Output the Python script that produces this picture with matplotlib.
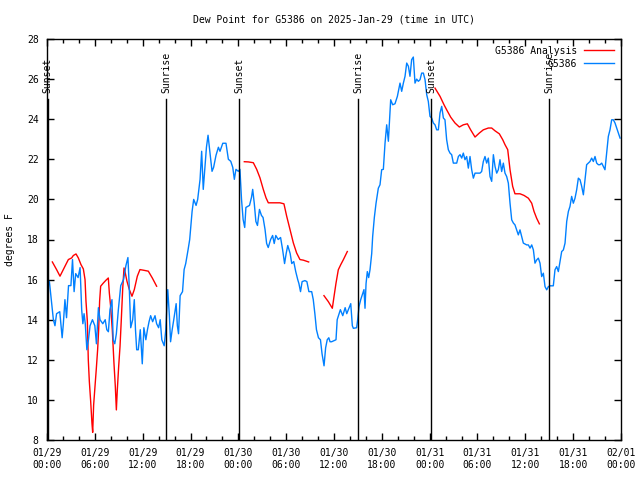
import numpy as np
import matplotlib
matplotlib.use('Agg')
import matplotlib.pyplot as plt
from matplotlib.ticker import MultipleLocator

# hours since 2025-01-29 00:00 UTC
hrs = [0, 0.3, 0.8, 1.0, 1.2, 1.6, 1.9, 2.05, 2.25, 2.45, 2.7, 3.0, 3.2, 3.4, 3.6, 3.9, 4.15, 4.35, 4.5, 4.65,
       4.8, 5.0, 5.2, 5.4, 5.7, 6.0, 6.2, 6.45, 6.65, 7.0, 7.3, 7.5, 7.7, 7.9, 8.15, 8.3, 8.5, 8.7, 8.95, 9.25,
       9.6, 9.9, 10.15, 10.3, 10.5, 10.75, 10.95, 11.1, 11.25, 11.45, 11.7, 11.95, 12.15, 12.4, 12.6, 12.8, 13.0,
       13.25, 13.55, 13.75, 14.0, 14.2, 14.4, 14.7, 14.9, 15.0, 15.15, 15.35, 15.5, 15.7, 15.9, 16.2, 16.35, 16.5,
       16.7, 17.0, 17.2, 17.4, 17.7, 17.9, 18.2, 18.4, 18.7, 18.9, 19.2, 19.4, 19.6, 19.85, 20.0, 20.2, 20.45,
       20.7, 20.9, 21.2, 21.5, 21.7, 22.05, 22.45, 22.75, 23.05, 23.3, 23.5, 23.7, 24.0, 24.2, 24.4, 24.6, 24.8,
       24.95, 25.4, 25.65, 25.8, 26.0, 26.2, 26.4, 26.65, 26.9, 27.1, 27.35, 27.55, 27.75, 28.05, 28.3, 28.5,
       28.7, 29.0, 29.3, 29.55, 29.8, 30.0, 30.2, 30.5, 30.7, 30.95, 31.2, 31.45, 31.6, 31.8, 32.0, 32.35, 32.6,
       32.85, 33.2, 33.4, 33.6, 33.8, 34.05, 34.3, 34.5, 34.75, 34.95, 35.15, 35.35, 35.5, 35.7, 36.25, 36.4,
       36.8, 37.1, 37.4, 37.6, 38.1, 38.3, 38.43, 38.84, 38.97, 39.14, 39.35, 39.6, 39.76, 39.89, 40.02, 40.18,
       40.35, 40.52, 40.73, 40.85, 41.06, 41.27, 41.56, 41.77, 41.98, 42.19, 42.40, 42.61, 42.82, 43.11, 43.36,
       43.65, 43.95, 44.28, 44.49, 44.70, 44.91, 45.12, 45.33, 45.53, 45.74, 45.95, 46.16, 46.37, 46.58, 46.79,
       47.00, 47.21, 47.42, 47.63, 47.83, 48.04, 48.25, 48.46, 48.67, 48.88, 49.09, 49.30, 49.51, 49.72, 49.92,
       50.13, 50.34, 50.55, 50.76, 50.97, 51.39, 51.60, 51.81, 52.02, 52.22, 52.43, 52.64, 52.85, 53.06, 53.27,
       53.48, 53.69, 53.90, 54.31, 54.52, 54.73, 54.94, 55.15, 55.36, 55.57, 55.78, 55.99, 56.20, 56.41, 56.61,
       56.82, 57.03, 57.24, 57.45, 57.66, 57.87, 58.08, 58.29, 58.50, 58.70, 58.91, 59.12, 59.33, 59.54, 59.75,
       60.17, 60.38, 60.59, 60.80, 61.01, 61.21, 61.42, 61.63, 61.84, 62.05, 62.26, 62.47, 62.68, 62.89, 63.10,
       63.51, 63.72, 63.93, 64.14, 64.35, 64.56, 64.77, 64.98, 65.19, 65.40, 65.60, 65.81, 66.02, 66.23, 66.44,
       66.65, 66.86, 67.07, 67.28, 67.49, 67.69, 67.90, 68.11, 68.32, 68.53, 68.74, 68.95, 69.16, 69.37, 69.58,
       69.79, 69.99, 70.20, 70.41, 70.62, 70.83, 71.04, 71.25, 71.46, 71.67, 71.88]
dew = [16.0, 15.9, 14.0, 13.7, 14.3, 14.4, 13.1, 13.8, 15.0, 14.1, 15.7, 15.7, 17.0, 15.4, 16.3, 16.1, 16.6, 14.5, 13.8, 14.3,
       13.8, 12.5, 13.0, 13.7, 14.0, 13.7, 12.8, 14.6, 14.0, 13.8, 14.0, 13.5, 13.4, 14.5, 15.0, 13.0, 12.8, 13.3, 14.5, 15.7,
       16.0, 16.7, 17.1, 15.8, 13.6, 14.0, 15.0, 13.5, 12.5, 12.5, 13.5, 11.8, 13.6, 13.0, 13.5, 13.9, 14.2,
       13.9, 14.2, 13.8, 13.6, 14.0, 13.0, 12.7, 13.5, 14.3, 15.5, 14.2, 12.9, 13.5, 14.0, 14.8, 13.7, 13.3,
       15.2, 15.4, 16.5, 16.8, 17.5, 18.0, 19.4, 20.0, 19.7, 20.0, 21.0, 22.4, 20.5, 21.8, 22.6, 23.2, 22.3,
       21.4, 21.6, 22.2, 22.6, 22.4, 22.8, 22.8, 22.0, 21.9, 21.6, 21.0, 21.5, 21.4, 21.5, 20.0, 19.0, 18.6,
       19.6, 19.7, 20.1, 20.5, 19.8, 18.9, 18.7, 19.5, 19.2, 19.1, 18.5, 17.8, 17.6, 18.0, 18.2, 17.8,
       18.2, 18.0, 18.1, 17.5, 16.8, 17.3, 17.7, 17.3, 16.8, 16.9, 16.4, 16.0, 15.8, 15.4, 15.9, 15.95, 15.9,
       15.4, 15.4, 15.0, 14.3, 13.5, 13.1, 13.0, 12.3, 11.7, 12.6, 13.0, 13.1, 12.9, 12.9, 13.0, 14.0,
       14.5, 14.2, 14.6, 14.3, 14.8, 13.7, 13.57, 13.6, 14.0, 14.66, 15.0, 15.3, 15.5, 14.57, 15.8, 16.4,
       16.1, 16.5, 17.3, 18.15, 19.1, 19.8, 20.56, 20.73, 21.48, 21.5, 22.8, 23.72, 22.9, 24.97, 24.72,
       24.77, 25.14, 25.8, 25.39, 25.8, 26.14, 26.8, 26.64, 26.14, 26.97, 27.1, 25.8, 26.0, 25.89, 25.97,
       26.3, 26.3, 25.97, 25.22, 24.89, 24.14, 24.06, 23.81, 23.72, 23.47, 23.47, 24.31, 24.64, 24.06, 23.97,
       22.98, 22.48, 22.31, 22.23, 21.81, 21.81, 22.14, 22.23, 22.06, 22.31, 21.98, 22.14, 21.56, 22.14, 21.48,
       21.06, 21.31, 21.31, 21.31, 21.39, 21.89, 22.14, 21.81, 22.06, 21.14, 20.9, 22.23, 21.64, 21.31, 21.48,
       21.98, 21.39, 21.81, 21.31, 21.14, 20.81, 19.81, 18.98, 18.82, 18.73, 18.48, 18.23, 18.48, 18.15, 17.82,
       17.73, 17.73, 17.57, 17.73, 17.48, 16.82, 16.98, 17.07, 16.82, 16.15, 16.32, 15.65, 15.49, 15.65, 15.69,
       15.69, 16.49, 16.65, 16.40, 16.9, 17.4, 17.48, 17.82, 18.9, 19.4, 19.65, 20.15, 19.81, 20.06, 20.48,
       21.06, 20.98, 20.65, 20.23, 20.98, 21.73, 21.81, 21.89, 22.06, 21.89, 22.14, 21.81, 21.73, 21.73, 21.81,
       21.64, 21.48, 22.31, 23.14, 23.47, 23.97, 23.97, 23.81, 23.56, 23.31, 23.06]

nan = np.nan
ana_hrs = [0.67, 1.2, 1.63, 2.26, 2.68, 3.09, 3.3, 3.64, 3.93, 4.26, 4.56, 4.77, 4.89, 5.06, 5.18, 5.31, 5.48,
           5.64, 5.73, 5.85, 6.02, 6.19, 6.35, 6.48, 6.6, 6.73, 7.07, 7.4, 7.69, 7.82, 7.98, 8.19, 8.4, 8.57,
           8.7, 8.82, 8.99, 9.16, 9.32, 9.49, 9.66, 9.82, 10.03, 10.33, 10.66, 10.95, 11.33, 11.66, 12.08,
           12.71, 13.21, 13.75, 19.0,
           24.75, 25.25, 25.88, 26.3, 26.71, 27.13, 27.47, 27.76, 28.39, 29.22, 29.72, 30.06, 30.48, 30.9,
           31.31, 31.73, 32.15, 32.82, 33.8,
           34.74, 35.29, 35.79, 36.0, 36.25, 36.54, 36.84, 37.17, 37.67, 43.0,
           48.67, 49.3, 49.8, 50.13, 50.64, 51.18, 51.72, 52.22, 52.73, 53.14, 53.69, 54.23, 54.73, 55.36,
           55.78, 56.2, 56.74, 57.16, 57.45, 57.79, 58.08, 58.41, 58.7, 59.33, 59.83, 60.38, 60.8, 61.09,
           61.42, 61.76]
ana = [16.88, 16.5, 16.17, 16.67, 17.0, 17.08, 17.2, 17.28, 17.08, 16.75, 16.53, 16.0, 14.92, 13.92, 12.0,
       10.92, 9.92, 8.83, 8.38, 9.75, 10.67, 11.58, 12.5, 13.5, 14.92, 15.67, 15.83, 15.97, 16.08, 15.33,
       14.67, 13.5, 11.83, 10.67, 9.5, 10.5, 11.67, 12.67, 14.0, 15.5, 16.58, 16.33, 15.92, 15.5, 15.17,
       15.5, 16.17, 16.5, 16.47, 16.42, 16.08, 15.67, nan,
       21.88, 21.87, 21.83, 21.5, 21.08, 20.5, 20.08, 19.83, 19.83, 19.83, 19.78, 19.17, 18.5, 17.83,
       17.33, 17.0, 16.97, 16.88, nan,
       15.2, 14.9, 14.57, 15.15, 15.82, 16.49, 16.74, 16.99, 17.4, nan,
       25.55, 25.14, 24.72, 24.47, 24.1, 23.81, 23.61, 23.72, 23.77, 23.47, 23.11, 23.31, 23.47, 23.56,
       23.56, 23.42, 23.27, 22.98, 22.73, 22.48, 21.48, 20.65, 20.28, 20.28, 20.2, 20.06, 19.81, 19.4,
       19.06, 18.78]

sun_hrs = [0.1, 14.93, 24.1, 39.0, 48.17, 62.97]
sun_lbl = ['Sunset', 'Sunrise', 'Sunset', 'Sunrise', 'Sunset', 'Sunrise']

tick_hrs = [0, 6, 12, 18, 24, 30, 36, 42, 48, 54, 60, 66, 72]
tick_lbl = ['01/29\n00:00', '01/29\n06:00', '01/29\n12:00', '01/29\n18:00',
            '01/30\n00:00', '01/30\n06:00', '01/30\n12:00', '01/30\n18:00',
            '01/31\n00:00', '01/31\n06:00', '01/31\n12:00', '01/31\n18:00',
            '02/01\n00:00']

plt.rcParams['font.family'] = 'DejaVu Sans Mono'
fs = 7

fig = plt.figure(figsize=(6.4, 4.8), dpi=100)
ax = fig.add_axes([47/640, 40/480, 574/640, 401/480])

ax.plot(ana_hrs, ana, color='#ff0000', lw=1, label='G5386 Analysis')
ax.plot(hrs, dew, color='#0080ff', lw=1, label='G5386')

for h, lbl in zip(sun_hrs, sun_lbl):
    ax.plot([h, h], [8, 25], color='black', lw=1)
    ax.text(h, 25.3, lbl, rotation=90, ha='center', va='bottom', fontsize=fs)

ax.set_xlim(0, 72)
ax.set_ylim(8, 28)
ax.set_xticks(tick_hrs, tick_lbl)
ax.xaxis.set_minor_locator(MultipleLocator(2))
ax.set_yticks(range(8, 29, 2))
ax.tick_params(which='both', direction='in', top=True, right=True, labelsize=fs, width=1)
ax.tick_params(which='major', length=5, pad=6)
ax.tick_params(which='minor', length=3)
for s in ax.spines.values():
    s.set_linewidth(1)

ax.legend(loc='upper right', frameon=False, markerfirst=False, fontsize=fs,
          handlelength=3.1, handletextpad=0.7, labelspacing=0.3,
          borderaxespad=0.4, borderpad=0.3)

fig.text(334/640, 1 - 19/480, 'Dew Point for G5386 on 2025-Jan-29 (time in UTC)',
         ha='center', va='center', fontsize=fs)
fig.text(10/640, 0.5, 'degrees F', rotation=90, ha='center', va='center', fontsize=fs)

fig.savefig('out.png', dpi=100)
